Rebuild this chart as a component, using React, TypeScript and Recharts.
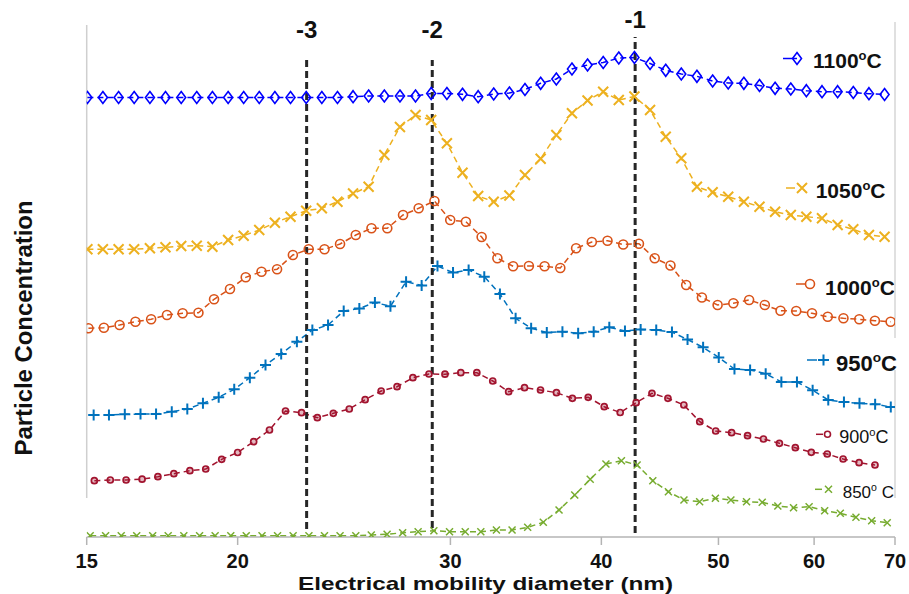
import React from 'react';
import { LineChart, Line, XAxis, YAxis, ReferenceLine, Customized } from 'recharts';

// Electrical mobility diameters (nm) of the sampled channels, per series
const DIAM_1100 = [15.02,15.47,15.94,16.42,16.92,17.43,17.96,18.50,19.06,19.64,20.23,20.84,21.47,22.12,22.79,23.48,24.19,24.92,25.67,26.45,27.25,28.07,28.92,29.80,30.70,31.63,32.58,33.57,34.58,35.63,36.71,37.82,38.96,40.14,41.35,42.60,43.89,45.22,46.58,47.99,49.45,50.94,52.48,54.07,55.70,57.39,59.12,60.91,62.75,64.65,66.61,68.62];
const DIAM_1050 = DIAM_1100;
const DIAM_1000 = [15.05,15.50,15.97,16.46,16.96,17.48,18.01,18.56,19.12,19.71,20.31,20.93,21.56,22.22,22.90,23.60,24.31,25.05,25.81,26.60,27.41,28.24,29.10,29.99,30.90,31.84,32.81,33.81,34.84,35.90,36.99,38.12,39.28,40.47,41.70,42.97,44.28,45.63,47.02,48.45,49.92,51.44,53.01,54.62,56.28,57.99,59.76,61.58,63.45,65.39,67.37,69.42];
const DIAM_950 = [15.20,15.65,16.13,16.62,17.12,17.64,18.17,18.72,19.29,19.87,20.47,21.09,21.73,22.39,23.06,23.76,24.48,25.22,25.98,26.76,27.57,28.40,29.27,30.15,31.06,32.00,32.97,33.97,34.99,36.05,37.14,38.27,39.42,40.61,41.84,43.11,44.41,45.76,47.14,48.56,50.03,51.55,53.11,54.71,56.37,58.07,59.83,61.64,63.51,65.42,67.40,69.44];
const DIAM_900 = [15.22,15.69,16.17,16.67,17.18,17.71,18.26,18.82,19.40,20.00,20.62,21.25,21.91,22.59,23.28,24.00,24.74,25.50,26.29,27.10,27.93,28.80,29.69,30.60,31.55,32.52,33.52,34.55,35.62,36.72,37.85,39.01,40.22,41.46,42.74,44.05,45.41,46.81,48.25,49.74,51.27,52.85,54.48,56.16,57.89,59.68,61.52,63.41,65.37,67.38];
const DIAM_850 = [15.10,15.55,16.02,16.50,17.01,17.52,18.05,18.60,19.16,19.74,20.33,20.95,21.58,22.23,22.91,23.60,24.31,25.05,25.80,26.59,27.39,28.21,29.07,29.95,30.86,31.79,32.75,33.74,34.76,35.81,36.90,38.02,39.16,40.35,41.56,42.82,44.12,45.45,46.82,48.24,49.71,51.20,52.75,54.35,55.99,57.69,59.43,61.22,63.07,64.98,66.95,68.97];

// Particle concentration (arbitrary, offset units)
const C_1100 = [439.5,439.5,439.5,439.5,439.5,439.5,439.5,439.5,439.5,439.5,439.5,439.5,439.5,439.5,439.5,439.5,439.5,440.3,441,441,441,441,443.5,443.5,442.7,440.3,443,444,447.5,453.7,458,468,472,474.5,479,479.5,473.5,466.7,463,460.7,456,454,453.7,451.5,448.7,448,446.3,445.3,445.3,444.5,443.3,442.5];
const C_1050 = [287.7,287.7,287.7,287.7,288.7,289.7,291,291.3,290.3,297,301.3,307,314.3,320.3,326.3,328.7,335.3,343.5,350.3,382,410,422,417,393.7,364.3,341,335.3,341.5,362,378.2,402,423.7,436.5,445.3,437,440.5,427,400.3,378.7,350.3,344.7,340.3,335.3,330.3,325.3,322,320.3,318.7,312,307.7,302,300.3];
const C_1000 = [208.7,209.3,212,215.3,217.7,222,223.7,224.3,237.7,248,259.7,265.3,267.7,282,287.7,287.7,293,302,308.7,308.7,322,328.7,336,317,315.3,300,278.7,270.7,271,270.7,269,288.7,295,296.3,292.5,293.3,278.7,271.5,252,239.5,232,233.7,237,232,226.3,226,223.7,220.3,218.7,217.7,216.3,215.3];
const C_950 = [122,122,122.7,123,123,125.3,128,133.7,139.7,147.7,159.3,172,183,195.3,207,212,226,228.5,234.5,230.7,255.3,251.5,271,264.5,267,260.3,243,218.7,208.7,204.5,205.3,203.7,205.3,209.7,206,207.5,207,205,197.5,189.7,179.5,168,167,163.3,155,155,146.7,137,135,133.7,132.8,130];
const C_900 = [56.3,57,57,57.8,60.3,63.3,66.3,68,77.7,84.5,95.3,107,126,124.3,119.3,123.7,128,137.3,146,150.3,159.3,163,162.8,164.3,164.3,156,145.3,149.3,147,144.3,138.7,139.7,130.3,124.5,134.3,143.7,138.7,132,115.3,106,104.3,101.3,98,93.7,89.3,84.7,83,78,74.3,72];
const C_850 = [1.3,1.3,1.3,1.3,1.3,1.3,1.3,1.3,1.3,1.3,1.3,1.3,1.3,1.3,1.3,1.3,1.3,1.3,2,2.7,4.3,5.3,6.3,5.3,5.3,5.3,7,7,9.7,14.7,27,42,57.7,73,76.3,72,56.3,45.3,37,35.3,38.7,37,35.3,34.7,31,29.3,30.3,26.3,23.7,19.7,16.3,14.3];

const X_TICKS = [15, 20, 30, 40, 50, 60, 70];
const Y_TICKS = [52, 121, 189, 258, 327, 395, 464];
const MODE_LINES = [
  { d: 22.81, label: '-3', top: 477, bottom: 8 },
  { d: 28.98, label: '-2', top: 477, bottom: 9 },
  { d: 42.66, label: '-1', top: 500, bottom: 4 },
];

const FF = '"Liberation Sans", Arial, Helvetica, sans-serif';
const COLORS = {
  c1100: '#0000FF',
  c1050: '#EDB120',
  c1000: '#D95319',
  c950: '#0072BD',
  c900: '#A2142F',
  c850: '#77AC30',
};

const toData = (ds: number[], vs: number[]) => ds.map((d, i) => ({ d, v: vs[i] }));

const Diamond = ({ cx, cy, color }: any) => (
  <path d={`M${cx},${cy - 6}L${cx + 4.5},${cy}L${cx},${cy + 6}L${cx - 4.5},${cy}Z`} fill="none" stroke={color} strokeWidth={1.6} />
);
const Cross = ({ cx, cy, color, s, w }: any) => (
  <path d={`M${cx - s},${cy - s}L${cx + s},${cy + s}M${cx - s},${cy + s}L${cx + s},${cy - s}`} fill="none" stroke={color} strokeWidth={w} />
);
const Plus = ({ cx, cy, color }: any) => (
  <path d={`M${cx - 5.5},${cy}L${cx + 5.5},${cy}M${cx},${cy - 5.5}L${cx},${cy + 5.5}`} fill="none" stroke={color} strokeWidth={2} />
);
const Ring = ({ cx, cy, color, r, w, fillOpacity }: any) => (
  <circle cx={cx} cy={cy} r={r} fill={fillOpacity ? color : 'none'} fillOpacity={fillOpacity || 0} stroke={color} strokeWidth={w} />
);

const LegText = ({ x, y, size, weight, num, sep }: any) => (
  <text x={x} y={y} fontSize={size} fontWeight={weight} fill="#111" fontFamily={FF}>
    {num}
    <tspan fontSize={size * 0.62} dy={-size * 0.4}>o</tspan>
    <tspan dy={size * 0.4}>{sep}C</tspan>
  </text>
);

const Decorations = () => (
  <g>
    {/* legend */}
    <line x1={783} y1={58.5} x2={797} y2={58.5} stroke={COLORS.c1100} strokeWidth={1.5} />
    <Diamond cx={797} cy={58.5} color={COLORS.c1100} />
    <LegText x={813} y={68.3} size={21} weight="bold" num="1100" sep="" />

    <line x1={786} y1={188} x2={795} y2={188} stroke={COLORS.c1050} strokeWidth={1.5} />
    <Cross cx={802} cy={188} color={COLORS.c1050} s={5} w={2} />
    <LegText x={815.7} y={198.3} size={21} weight="bold" num="1050" sep="" />

    <line x1={796} y1={284} x2={805} y2={284} stroke={COLORS.c1000} strokeWidth={1.5} />
    <Ring cx={810} cy={284} color={COLORS.c1000} r={4.5} w={1.6} />
    <LegText x={825} y={295} size={21} weight="bold" num="1000" sep="" />

    <line x1={807} y1={360} x2={817} y2={360} stroke={COLORS.c950} strokeWidth={1.5} />
    <Plus cx={823.5} cy={360} color={COLORS.c950} />
    <LegText x={836} y={371} size={22} weight="bold" num="950" sep="" />

    <line x1={816} y1={434.3} x2={823} y2={434.3} stroke={COLORS.c900} strokeWidth={1.5} />
    <Ring cx={827.5} cy={434.3} color={COLORS.c900} r={3} w={1.6} />
    <LegText x={839.3} y={443.3} size={18} weight="normal" num="900" sep="" />

    <line x1={815} y1={489.3} x2={822} y2={489.3} stroke={COLORS.c850} strokeWidth={1.5} />
    <Cross cx={828.5} cy={489.3} color={COLORS.c850} s={3.5} w={1.5} />
    <LegText x={842.7} y={498} size={17} weight="normal" num="850" sep=" " />

    {/* axis titles */}
    <text x={485.5} y={589.5} textAnchor="middle" fontSize={18.5} fontWeight="bold" fill="#111" fontFamily={FF} textLength={375} lengthAdjust="spacingAndGlyphs">
      Electrical mobility diameter (nm)
    </text>
    <text x={31.7} y={328} transform="rotate(-90 31.7 328)" textAnchor="middle" fontSize={24} fontWeight="bold" fill="#111" fontFamily={FF} textLength={255} lengthAdjust="spacingAndGlyphs">
      Particle Concentration
    </text>
  </g>
);

const DASH = '6 4';

export default function App() {
  return (
    <div style={{ position: 'absolute', left: 0, top: 0, width: 909, height: 594, background: '#fff' }}>
      <LineChart width={909} height={594} margin={{ top: 17, right: 14, bottom: 0, left: 86.7 }} style={{ fontFamily: FF }}>
        <XAxis
          type="number"
          dataKey="d"
          scale="log"
          domain={[15, 70]}
          allowDataOverflow
          ticks={X_TICKS}
          height={57}
          tickSize={8}
          tickMargin={9}
          axisLine={{ stroke: '#b4b4b4', strokeWidth: 1.5 }}
          tickLine={{ stroke: '#b4b4b4', strokeWidth: 1.5 }}
          tick={{ fill: '#111', fontSize: 20, fontWeight: 'bold', fontFamily: FF }}
        />
        <YAxis
          type="number"
          dataKey="v"
          domain={[0, 520]}
          allowDataOverflow
          width={0}
          ticks={Y_TICKS}
          tick={false}
          tickSize={4}
          axisLine={false}
          tickLine={{ stroke: '#c8c8c8', strokeWidth: 1 }}
        />
        <ReferenceLine segment={[{ x: 15, y: 39 }, { x: 15, y: 512 }]} stroke="#cfcfcf" strokeWidth={1.5} />
        <ReferenceLine segment={[{ x: 70, y: 199 }, { x: 70, y: 515 }]} stroke="#d6d6d6" strokeWidth={1.5} />
        <ReferenceLine segment={[{ x: 70, y: 39 }, { x: 70, y: 167 }]} stroke="#d6d6d6" strokeWidth={1.5} />

        <Line data={toData(DIAM_850, C_850)} dataKey="v" type="linear" stroke={COLORS.c850} strokeWidth={1.5} strokeDasharray={DASH}
          dot={(p: any) => <Cross key={`g${p.index}`} cx={p.cx} cy={p.cy} color={COLORS.c850} s={3.5} w={1.5} />} activeDot={false} isAnimationActive={false} />
        <Line data={toData(DIAM_900, C_900)} dataKey="v" type="linear" stroke={COLORS.c900} strokeWidth={1.5} strokeDasharray={DASH}
          dot={(p: any) => <Ring key={`r${p.index}`} cx={p.cx} cy={p.cy} color={COLORS.c900} r={3} w={1.7} fillOpacity={0.3} />} activeDot={false} isAnimationActive={false} />
        <Line data={toData(DIAM_950, C_950)} dataKey="v" type="linear" stroke={COLORS.c950} strokeWidth={1.5} strokeDasharray={DASH}
          dot={(p: any) => <Plus key={`b${p.index}`} cx={p.cx} cy={p.cy} color={COLORS.c950} />} activeDot={false} isAnimationActive={false} />
        <Line data={toData(DIAM_1000, C_1000)} dataKey="v" type="linear" stroke={COLORS.c1000} strokeWidth={1.5} strokeDasharray={DASH}
          dot={(p: any) => <Ring key={`o${p.index}`} cx={p.cx} cy={p.cy} color={COLORS.c1000} r={4.5} w={1.6} />} activeDot={false} isAnimationActive={false} />
        <Line data={toData(DIAM_1050, C_1050)} dataKey="v" type="linear" stroke={COLORS.c1050} strokeWidth={1.5} strokeDasharray={DASH}
          dot={(p: any) => <Cross key={`y${p.index}`} cx={p.cx} cy={p.cy} color={COLORS.c1050} s={5} w={2} />} activeDot={false} isAnimationActive={false} />
        <Line data={toData(DIAM_1100, C_1100)} dataKey="v" type="linear" stroke={COLORS.c1100} strokeWidth={1.5} strokeDasharray={DASH}
          dot={(p: any) => <Diamond key={`d${p.index}`} cx={p.cx} cy={p.cy} color={COLORS.c1100} />} activeDot={false} isAnimationActive={false} />

        {MODE_LINES.map((m) => (
          <ReferenceLine
            key={m.label}
            segment={[{ x: m.d, y: m.bottom }, { x: m.d, y: m.top }]}
            stroke="#262626"
            strokeWidth={3}
            strokeDasharray="7 4"
            label={{ value: m.label, position: 'top', offset: m.label === '-1' ? 9 : 22, fill: '#111', fontSize: 24, fontWeight: 'bold', fontFamily: FF }}
          />
        ))}
        <Customized component={<Decorations />} />
      </LineChart>
    </div>
  );
}
